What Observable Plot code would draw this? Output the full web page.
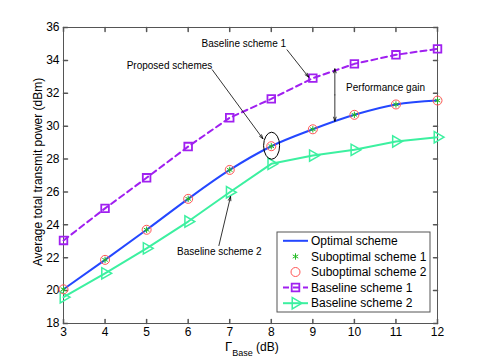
<!DOCTYPE html>
<html><head><meta charset="utf-8">
<script src="https://cdn.jsdelivr.net/npm/d3@7"></script>
<script src="https://cdn.jsdelivr.net/npm/@observablehq/plot@0.6"></script>
<style>body{margin:0;background:#fff}</style>
</head><body><div id="chart"></div>
<script>
// ---- data ----
const gammaBase = [3, 4, 5, 6, 7, 8, 9, 10, 11, 12];
const optimal   = [20.08, 21.87, 23.70, 25.58, 27.34, 28.78, 29.81, 30.69, 31.32, 31.56];
const subopt1   = [20.08, 21.87, 23.70, 25.58, 27.34, 28.78, 29.81, 30.69, 31.32, 31.56];
const subopt2   = [20.08, 21.87, 23.70, 25.58, 27.34, 28.78, 29.81, 30.69, 31.32, 31.56];
const baseline1 = [23.05, 25.00, 26.86, 28.76, 30.51, 31.66, 32.92, 33.79, 34.34, 34.70];
const baseline2 = [19.60, 21.05, 22.57, 24.20, 25.98, 27.71, 28.21, 28.56, 29.07, 29.33];
const xTicks = [3, 4, 5, 6, 7, 8, 9, 10, 11, 12];
const yTicks = [18, 20, 22, 24, 26, 28, 30, 32, 34, 36];
const seriesNames = ["Optimal scheme", "Suboptimal scheme 1", "Suboptimal scheme 2", "Baseline scheme 1", "Baseline scheme 2"];
const annoCentered = [
  {x: 7.34, y: 35.0, text: "Baseline scheme 1"},
  {x: 5.55, y: 33.69, text: "Proposed schemes"},
  {x: 6.75, y: 22.33, text: "Baseline scheme 2"}
];
const annoLeft = [
  {x: 9.80, y: 32.33, text: "Performance gain"}
];
const annoArrows = [
  {x1: 8.38, y1: 34.64, x2: 8.90, y2: 32.98},
  {x1: 6.58, y1: 33.43, x2: 7.80, y2: 29.23},
  {x1: 6.74, y1: 22.74, x2: 7.02, y2: 25.72},
  {x1: 9.53, y1: 31.90, x2: 9.53, y2: 33.49},
  {x1: 9.53, y1: 31.90, x2: 9.53, y2: 30.30}
];
const ellipseAt = {x: 8.02, y: 28.78};

// ---- styles ----
const C = {opt: "#2447ff", s1: "#22bb22", s2: "#ff5555", b1: "#a020f0", b2: "#3cf0a0", frame: "#555"};
const rows = ys => gammaBase.map((x, i) => ({x, y: ys[i]}));
const tickShape = {draw(context, l) { context.moveTo(0, 0); context.lineTo(0, -l); }};

const plot = Plot.plot({
  width: 485, height: 363,
  marginLeft: 63, marginRight: 48, marginTop: 27, marginBottom: 40,
  style: {fontFamily: "'Liberation Sans', Arial, sans-serif", fontSize: "12px", background: "#fff", color: "#000"},
  x: {domain: [3, 12]},
  y: {domain: [18, 36]},
  marks: [
    Plot.axisX({ticks: xTicks, tickSize: 0, tickPadding: 4, label: null, fontSize: 12, fill: "#000"}),
    Plot.axisY({ticks: yTicks, tickSize: 0, tickPadding: 4, label: null, fontSize: 12, fill: "#000"}),
    Plot.vector(xTicks, {x: d => d, y: 18, length: 4, rotate: 0, anchor: "start", shape: tickShape, stroke: C.frame}),
    Plot.vector(xTicks, {x: d => d, y: 36, length: 4, rotate: 180, anchor: "start", shape: tickShape, stroke: C.frame}),
    Plot.vector(yTicks, {x: 3, y: d => d, length: 4, rotate: 90, anchor: "start", shape: tickShape, stroke: C.frame}),
    Plot.vector(yTicks, {x: 12, y: d => d, length: 4, rotate: -90, anchor: "start", shape: tickShape, stroke: C.frame}),
    Plot.frame({stroke: C.frame}),
    Plot.line(rows(baseline2), {x: "x", y: "y", stroke: C.b2, strokeWidth: 2}),
    Plot.line(rows(baseline1), {x: "x", y: "y", stroke: C.b1, strokeWidth: 2, strokeDasharray: "6,4"}),
    Plot.line(rows(optimal), {x: "x", y: "y", stroke: C.opt, strokeWidth: 2, curve: "monotone-x"}),
    Plot.dot(rows(baseline2), {x: "x", y: "y", symbol: "triangle", rotate: 90, r: 4.2, stroke: C.b2, strokeWidth: 1.5, fill: "none"}),
    Plot.dot(rows(baseline1), {x: "x", y: "y", symbol: "square", r: 4.3, stroke: C.b1, strokeWidth: 1.8, fill: "none"}),
    Plot.dot(rows(subopt2), {x: "x", y: "y", symbol: "circle", r: 4.5, stroke: C.s2, strokeWidth: 1, fill: "none"}),
    Plot.dot(rows(subopt1), {x: "x", y: "y", symbol: "asterisk", r: 3, stroke: C.s1, strokeWidth: 1}),
    Plot.arrow(annoArrows, {x1: "x1", y1: "y1", x2: "x2", y2: "y2", stroke: "#000", strokeWidth: 0.8, headLength: 8, headAngle: 35}),
    Plot.text(annoCentered, {x: "x", y: "y", text: "text", textAnchor: "middle", fontSize: 10, fill: "#000"}),
    Plot.text(annoLeft, {x: "x", y: "y", text: "text", textAnchor: "start", fontSize: 10, fill: "#000"})
  ]
});

const svg = d3.select(plot);
const sx = plot.scale("x"), sy = plot.scale("y");
// ellipse annotation
svg.append("ellipse")
  .attr("cx", sx.apply(ellipseAt.x)).attr("cy", sy.apply(ellipseAt.y))
  .attr("rx", 8).attr("ry", 13.5)
  .attr("fill", "none").attr("stroke", "#000").attr("stroke-width", 1);

// axis titles
svg.append("text")
  .attr("transform", "translate(38,172) rotate(-90)")
  .attr("text-anchor", "middle").attr("dy", "0.35em")
  .attr("font-size", 12).attr("fill", "#000")
  .text("Average total transmit power (dBm)");
const xl = svg.append("text").attr("x", 225).attr("y", 350.5)
  .attr("text-anchor", "start").attr("font-size", 12).attr("fill", "#000");
xl.append("tspan").attr("font-size", 13).text("Γ");
xl.append("tspan").attr("font-size", 9).attr("dy", 5).text("Base");
xl.append("tspan").attr("dy", -5).text(" (dB)");

// legend
const lg = svg.append("g");
lg.append("rect").attr("x", 277).attr("y", 232).attr("width", 153).attr("height", 80)
  .attr("fill", "#fff").attr("stroke", "#555").attr("stroke-width", 1);
const rowY = [240.8, 256.5, 272, 287.5, 303.2];
const legendSpec = [
  {line: C.opt, dash: null, sym: null},
  {line: null, sym: d3.symbolAsterisk, r: 3, color: C.s1, sw: 1},
  {line: null, sym: d3.symbolCircle, r: 4.5, color: C.s2, sw: 1},
  {line: C.b1, dash: "6,4", sym: d3.symbolSquare, r: 4.3, color: C.b1, sw: 1.8},
  {line: C.b2, dash: null, sym: d3.symbolTriangle, r: 4.2, color: C.b2, sw: 1.5, rot: 90}
];
legendSpec.forEach((s, i) => {
  const y = rowY[i];
  if (s.line) {
    lg.append("line").attr("x1", 283).attr("x2", 308).attr("y1", y).attr("y2", y)
      .attr("stroke", s.line).attr("stroke-width", 2).attr("stroke-dasharray", s.dash);
  }
  if (s.sym) {
    lg.append("path").attr("d", d3.symbol(s.sym, Math.PI * s.r * s.r)())
      .attr("transform", `translate(295.5,${y}) rotate(${s.rot || 0})`)
      .attr("fill", "none").attr("stroke", s.color).attr("stroke-width", s.sw);
  }
  lg.append("text").attr("x", 311).attr("y", y).attr("dy", "0.35em")
    .attr("text-anchor", "start")
    .attr("font-size", 12).attr("fill", "#000").text(seriesNames[i]);
});

document.getElementById("chart").appendChild(plot);
</script>
</body></html>
